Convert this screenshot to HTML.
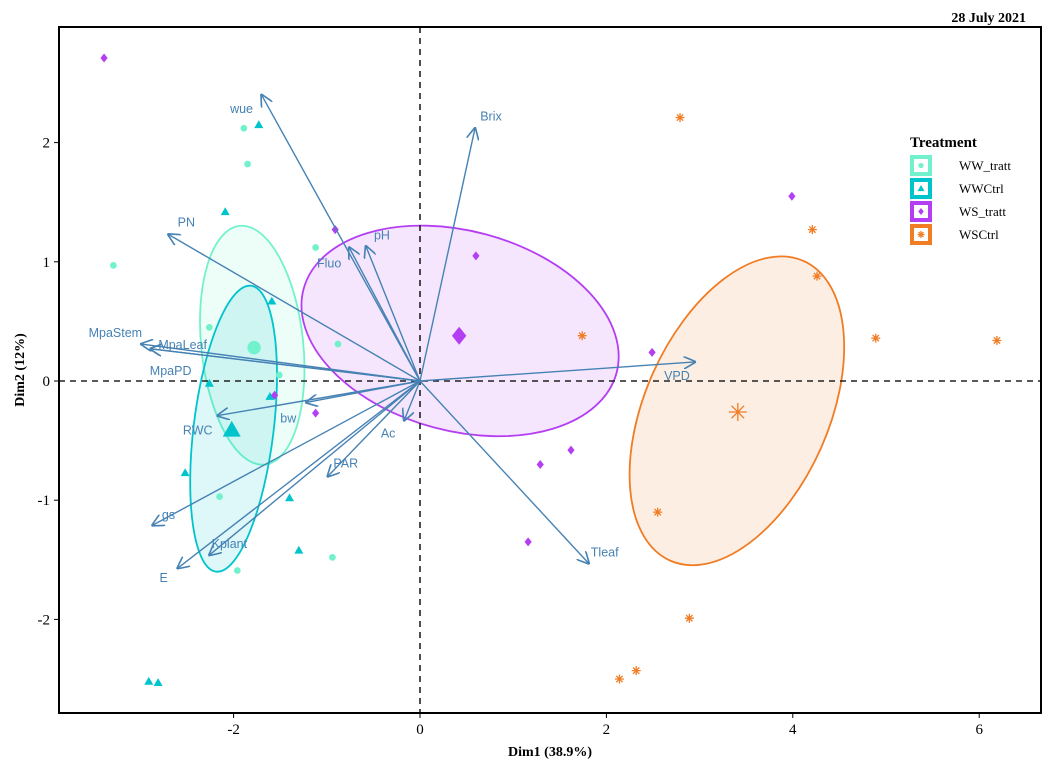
<!DOCTYPE html>
<html><head><meta charset="utf-8"><style>
body{margin:0;background:#fff}
svg{display:block;font-family:"Liberation Sans",sans-serif}
.serif{font-family:"Liberation Serif",serif}
</style></head><body>
<svg id="chart" width="1059" height="774">
<defs><marker id="ah" viewBox="0 0 10 10" refX="9" refY="5" markerWidth="9" markerHeight="9" orient="auto-start-reverse"><path d="M0,0 L10,5 L0,10" fill="none" stroke="#4682b4" stroke-width="1.3"/></marker></defs>
<text class="serif" x="1026" y="22" text-anchor="end" font-size="14" font-weight="bold">28 July 2021</text>
<g id="ell"></g>
<line x1="59" y1="381" x2="1041" y2="381" stroke="#222" stroke-width="1.6" stroke-dasharray="6,5"/>
<line x1="420" y1="27" x2="420" y2="713" stroke="#222" stroke-width="1.6" stroke-dasharray="6,5"/>
<g id="pts"></g><g id="arr"></g><g id="ax"></g>
<rect x="59" y="27" width="982" height="686" fill="none" stroke="#000" stroke-width="2"/>
<text class="serif" x="550" y="756" text-anchor="middle" font-size="14" font-weight="bold">Dim1 (38.9%)</text>
<text class="serif" x="24" y="370" text-anchor="middle" font-size="14" font-weight="bold" transform="rotate(-90 24 370)">Dim2 (12%)</text>
<g id="legend"></g>
</svg>
<script>
const xTicks=[-2,0,2,4,6];
const yTicks=[-2,-1,0,1,2];
const groups=["WW_tratt","WWCtrl","WS_tratt","WSCtrl"];
const colors=["#72f2cc","#00c4cc","#b43ef2","#f07c24"];
const wwTrattX=[-1.89,-1.85,-3.29,-1.12,-2.26,-0.88,-1.51,-2.15,-1.96,-0.94];
const wwTrattY=[2.12,1.82,0.97,1.12,0.45,0.31,0.05,-0.97,-1.59,-1.48];
const wwCtrlX=[-1.73,-2.09,-1.59,-2.26,-1.61,-2.52,-1.40,-1.30,-2.91,-2.81];
const wwCtrlY=[2.15,1.42,0.67,-0.02,-0.13,-0.77,-0.98,-1.42,-2.52,-2.53];
const wsTrattX=[-3.39,-0.91,0.60,2.49,-1.56,-1.12,1.29,1.62,1.16,3.99];
const wsTrattY=[2.71,1.27,1.05,0.24,-0.12,-0.27,-0.70,-0.58,-1.35,1.55];
const wsCtrlX=[2.79,4.21,4.26,1.74,4.89,6.19,2.55,2.89,2.32,2.14];
const wsCtrlY=[2.21,1.27,0.88,0.38,0.36,0.34,-1.10,-1.99,-2.43,-2.50];
const centX=[-1.78,-2.02,0.42,3.41];
const centY=[0.28,-0.41,0.38,-0.26];
const varNames=["wue","Brix","PN","pH","Fluo","MpaStem","MpaLeaf","MpaPD","VPD","bw","RWC","Ac","PAR","gs","Kplant","E","Tleaf"];
const varX=[-1.70,0.59,-2.70,-0.58,-0.76,-2.99,-2.89,-2.89,2.95,-1.22,-2.17,-0.17,-0.99,-2.87,-2.26,-2.60,1.81];
const varY=[2.40,2.12,1.23,1.13,1.12,0.31,0.27,0.27,0.16,-0.18,-0.29,-0.33,-0.80,-1.21,-1.46,-1.57,-1.53];
const labDX=[-20,16,18,16,-20,-26,32,20,-18,-18,-20,-16,18,16,20,-14,16];
const labDY=[14,-12,-12,-11,16,-11,-4,22,14,16,15,13,-13,-10,-11,10,-11];
const ellCX=[-1.80,-2.00,0.43,3.40];
const ellCY=[0.30,-0.40,0.42,-0.25];
const ellA=[120,144,162,164], ellB=[51,40,100,92], ellRot=[-6,7,15,24];
const X=v=>420+v*93.2, Y=v=>381-v*119.2;
const NS="http://www.w3.org/2000/svg";
function mk(t,a,p){const e=document.createElementNS(NS,t);for(const k in a)e.setAttribute(k,a[k]);p.appendChild(e);return e;}
const ax=document.getElementById('ax');
xTicks.forEach(t=>{const g=mk('g',{},ax);


mk('line',{x1:X(t),x2:X(t),y1:713,y2:718,stroke:'#000'},g);const s=mk('text',{x:X(t),y:734,'text-anchor':'middle','font-size':15,'class':'serif'},g);s.textContent=t;});
yTicks.forEach(t=>{const g=mk('g',{},ax);


mk('line',{x1:54,x2:59,y1:Y(t),y2:Y(t),stroke:'#000'},g);const s=mk('text',{x:50,y:Y(t)+5,'text-anchor':'end','font-size':15,'class':'serif'},g);s.textContent=t;});
const ell=document.getElementById('ell');
groups.forEach((g,i)=>{const e=mk('ellipse',{cx:0,cy:0,rx:ellB[i],ry:ellA[i],transform:`translate(${X(ellCX[i])},${Y(ellCY[i])}) rotate(${ellRot[i]})`,fill:colors[i],'fill-opacity':0.13,stroke:colors[i],'stroke-width':1.8},ell);
if(i==2){e.setAttribute('rx',ellA[i]);e.setAttribute('ry',ellB[i]);}

});
function marker(k,x,y,s,p,c){let e;
if(k==0)e=mk('circle',{cx:x,cy:y,r:s*0.75,fill:c},p);
else if(k==1)e=mk('path',{d:`M${x},${y-s} L${x+s},${y+s*0.75} L${x-s},${y+s*0.75}Z`,fill:c},p);
else if(k==2)e=mk('path',{d:`M${x},${y-s} L${x+s*0.8},${y} L${x},${y+s} L${x-s*0.8},${y}Z`,fill:c},p);
else{e=mk('path',{d:`M${x-s},${y}H${x+s}M${x},${y-s}V${y+s}M${x-s*.7},${y-s*.7}L${x+s*.7},${y+s*.7}M${x-s*.7},${y+s*.7}L${x+s*.7},${y-s*.7}`,stroke:c,'stroke-width':1.3,fill:'none'},p);}
return e;}
const PX=[wwTrattX,wwCtrlX,wsTrattX,wsCtrlX],PY=[wwTrattY,wwCtrlY,wsTrattY,wsCtrlY];
const pts=document.getElementById('pts');
PX.forEach((xs,i)=>{xs.forEach((v,j)=>{const e=marker(i,X(v),Y(PY[i][j]),4.5,pts,colors[i]);

});
const c=marker(i,X(centX[i]),Y(centY[i]),9,pts,colors[i]);

});
const arr=document.getElementById('arr');
varNames.forEach((n,i)=>{const g=mk('g',{},arr);


mk('line',{x1:420,y1:381,x2:X(varX[i]),y2:Y(varY[i]),stroke:'#4682b4','stroke-width':1.4,'marker-end':'url(#ah)'},g);
const t=mk('text',{x:X(varX[i])+labDX[i],y:Y(varY[i])+labDY[i]+4,'text-anchor':'middle','font-size':12.5,fill:'#4682b4'},g);t.textContent=n;});
const lg=document.getElementById('legend');
const tt=mk('text',{x:910,y:147,'font-size':15,'font-weight':'bold','class':'serif'},lg);tt.textContent='Treatment';
groups.forEach((g,i)=>{const y=165+i*23;const it=mk('g',{},lg);


mk('rect',{x:910,y:y-10,width:22,height:21,fill:colors[i]},it);mk('rect',{x:914,y:y-6,width:14,height:13,fill:'#fff'},it);
marker(i,921,y+0.5,3.5,it,colors[i]);
const t=mk('text',{x:959,y:y+5,'font-size':13,'class':'serif'},it);t.textContent=g;});
</script>
</body></html>
